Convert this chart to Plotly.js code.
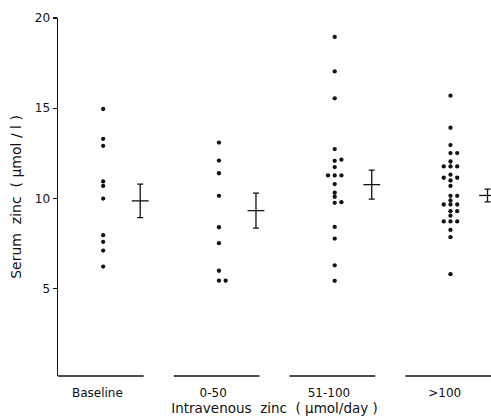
<!DOCTYPE html>
<html>
<head>
<meta charset="utf-8">
<script src="https://cdn.plot.ly/plotly-3.0.1.min.js"></script>
<style>html,body{margin:0;padding:0;background:#fff;}#chart{width:491px;height:419px;}</style>
</head>
<body>
<div id="chart"></div>
<script>
// ---- data ----
const categories = ['Baseline', '0-50', '51-100', '>100'];
const baseline   = [14.96, 13.31, 12.92, 10.95, 10.7, 10.0, 7.97, 7.6, 7.12, 6.23];
const zeroTo50   = [13.1, 12.1, 11.4, 10.15, 8.41, 7.53, 6.0, 5.45, 5.45];
const from51To100 = [18.95, 17.04, 15.55, 12.74, 12.09, 12.15, 11.74, 11.28, 11.28, 11.28,
                     10.8, 10.32, 10.1, 9.76, 9.8, 8.43, 7.78, 6.3, 5.44];
const over100    = [15.7, 13.92, 12.96, 12.52, 12.52, 12.05, 11.78, 11.78, 11.78,
                    11.32, 11.15, 11.15, 11.0, 10.7, 10.15, 10.15, 9.89, 9.67, 9.67, 9.67,
                    9.3, 9.3, 9.05, 8.73, 8.73, 8.73, 8.26, 7.86, 5.81];
const groupMeans = [9.87, 9.33, 10.77, 10.17];
const groupSE    = [0.93, 0.97, 0.80, 0.35];
const yTicks     = [5, 10, 15, 20];

// ---- layout helpers ----
const groups = [baseline, zeroTo50, from51To100, over100];
const ink = '#111';
const dodgeStep = 0.058, dodgeThresh = 0.2, barOffset = 0.32;
const slotOrder = [0, 1, -1, 2, -2];

function dodge(values, center) {
  const placed = [];
  return values.map(v => {
    for (const s of slotOrder) {
      if (!placed.some(p => p.s === s && Math.abs(p.v - v) < dodgeThresh)) {
        placed.push({s, v});
        return center + s * dodgeStep;
      }
    }
    return center;
  });
}

const traces = [];
groups.forEach((vals, i) => {
  traces.push({
    type: 'scatter', mode: 'markers',
    x: dodge(vals, i), y: vals,
    marker: {color: ink, size: 4.3},
    hoverinfo: 'y', showlegend: false, cliponaxis: false
  });
});
traces.push({
  type: 'scatter', mode: 'markers',
  x: categories.map((c, i) => i + barOffset), y: groupMeans,
  marker: {symbol: 'line-ew', size: 12, line: {color: ink, width: 1.3}},
  error_y: {type: 'data', array: groupSE, visible: true, color: ink, thickness: 1.3, width: 3},
  showlegend: false, cliponaxis: false
});

const shapes = categories.map((c, i) => ({
  type: 'line', xref: 'x', yref: 'paper',
  x0: i - 0.39, x1: i + 0.35, y0: 0, y1: 0,
  line: {color: ink, width: 1.4}
}));

const fam = 'DejaVu Sans, sans-serif';
const font = {family: fam, size: 12, color: '#111'};
const layout = {
  width: 491, height: 419,
  margin: {l: 58, r: 0, t: 18, b: 43},
  paper_bgcolor: '#fff', plot_bgcolor: '#fff',
  font: font,
  showlegend: false,
  xaxis: {
    range: [-0.39, 3.35],
    showgrid: false, zeroline: false, showline: false,
    tickvals: categories.map((c, i) => i - 0.05),
    ticktext: categories,
    ticks: '', ticklen: 0, ticklabelstandoff: 8,
    tickfont: font,
    title: {text: 'Intravenous  zinc  ( μmol/day )', font: {family: fam, size: 13.5, color: '#111'}, standoff: 3},
    automargin: false, fixedrange: true
  },
  yaxis: {
    range: [0.17, 20],
    showgrid: false, zeroline: false,
    showline: true, linecolor: ink, linewidth: 1.5,
    tickvals: yTicks, ticks: 'outside', ticklen: 4, tickwidth: 1.3, tickcolor: ink,
    tickfont: font,
    title: {text: 'Serum  zinc  ( μmol / l )', font: {family: fam, size: 14, color: '#111'}, standoff: 10},
    automargin: false, fixedrange: true
  },
  shapes: shapes
};

Plotly.newPlot('chart', traces, layout, {displayModeBar: false, staticPlot: true});
</script>
</body>
</html>
